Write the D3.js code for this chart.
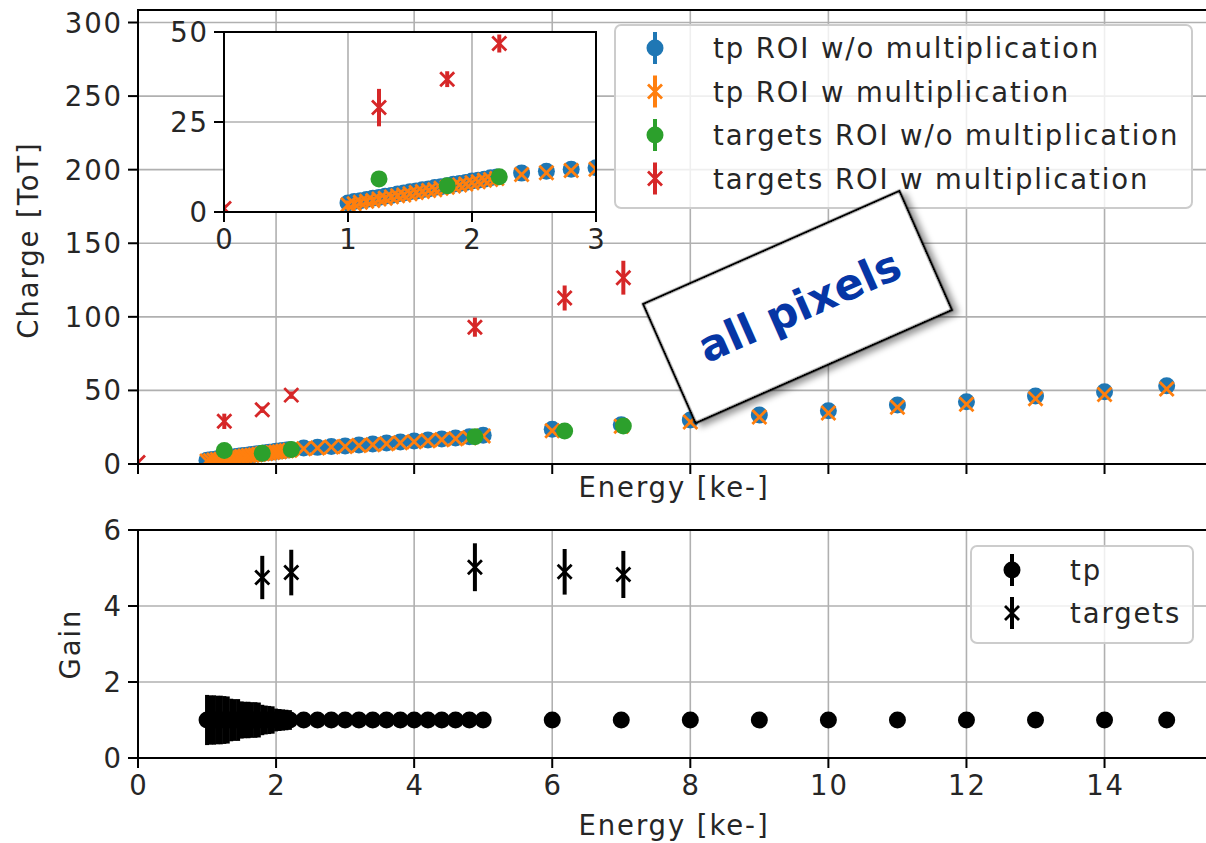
<!DOCTYPE html>
<html>
<head>
<meta charset="utf-8">
<script src="https://cdn.jsdelivr.net/npm/d3@7"></script>
<style>
  body { margin: 0; background: #fff; }
  text { font-family: "DejaVu Sans", sans-serif; fill: #262626; letter-spacing: 1.9px; }
</style>
</head>
<body>
<svg id="chart" width="1206" height="843"></svg>
<script>
// test pulse (tp) energies, ke-
const tpEnergy = [1.00, 1.05, 1.10, 1.15, 1.20, 1.25, 1.30, 1.35, 1.40, 1.45, 1.50, 1.55, 1.60, 1.65, 1.70,
  1.75, 1.80, 1.85, 1.90, 1.95, 2.00, 2.05, 2.10, 2.15, 2.20,
  2.4, 2.6, 2.8, 3.0, 3.2, 3.4, 3.6, 3.8, 4.0, 4.2, 4.4, 4.6, 4.8, 5.0,
  6, 7, 8, 9, 10, 11, 12, 13, 14, 14.9];

// tp charge without multiplication [ToT]
const tpChargeNoMult = [2.5, 2.9, 3.1, 3.5, 3.8, 4.0, 4.4, 4.6, 5.0, 5.3, 5.6, 5.8, 6.2, 6.4, 6.8,
  7.0, 7.3, 7.7, 7.9, 8.2, 8.6, 8.8, 9.1, 9.5, 9.7,
  10.8, 11.3, 11.9, 12.3, 12.9, 13.6, 14.2, 14.9, 15.6, 16.3, 17.0, 17.7, 18.5, 19.6,
  23.6, 26.7, 29.9, 33.3, 36.2, 40.1, 42.3, 46.2, 49.1, 53.2];
const tpChargeNoMultErr = [0.4, 0.4, 0.4, 0.4, 0.4, 0.4, 0.4, 0.4, 0.4, 0.4, 0.4, 0.4, 0.4, 0.4, 0.4,
  0.4, 0.4, 0.4, 0.4, 0.4, 0.4, 0.4, 0.4, 0.4, 0.4,
  0.4, 0.4, 0.4, 0.4, 0.4, 0.4, 0.4, 0.4, 0.4, 0.4, 0.4, 0.4, 0.4, 0.4,
  0.5, 0.5, 0.5, 0.5, 0.5, 0.5, 0.5, 0.5, 0.5, 0.5];

// tp charge with multiplication [ToT]
const tpChargeMult = [2.0, 2.3, 2.7, 3.0, 3.2, 3.6, 3.8, 4.2, 4.5, 4.7, 5.1, 5.4, 5.7, 6.0, 6.2,
  6.6, 6.9, 7.2, 7.5, 7.8, 8.1, 8.4, 8.8, 9.0, 9.3,
  10.4, 10.9, 11.5, 11.9, 12.5, 13.1, 13.8, 14.4, 15.1, 15.8, 16.5, 17.2, 17.9, 19.0,
  22.6, 25.6, 28.6, 31.9, 34.7, 38.5, 40.6, 44.4, 47.2, 51.0];
const tpChargeMultErr = [1.2, 1.2, 1.1, 1.1, 1.0, 1.0, 1.0, 0.9, 0.9, 0.9, 0.8, 0.8, 0.8, 0.7, 0.7,
  0.7, 0.7, 0.6, 0.6, 0.6, 0.6, 0.5, 0.5, 0.5, 0.5,
  0.4, 0.4, 0.4, 0.4, 0.4, 0.4, 0.4, 0.4, 0.4, 0.4, 0.4, 0.4, 0.4, 0.4,
  0.5, 0.5, 0.5, 0.5, 0.5, 0.5, 0.5, 0.5, 0.5, 0.5];

// tp gain (w / w/o multiplication)
const tpGain = [1.0, 1.0, 1.0, 1.0, 1.0, 1.0, 1.0, 1.0, 1.0, 1.0, 1.0, 1.0, 1.0, 1.0, 1.0,
  1.0, 1.0, 1.0, 1.0, 1.0, 1.0, 1.0, 1.0, 1.0, 1.0,
  1.0, 1.0, 1.0, 1.0, 1.0, 1.0, 1.0, 1.0, 1.0, 1.0, 1.0, 1.0, 1.0, 1.0,
  1.0, 1.0, 1.0, 1.0, 1.0, 1.0, 1.0, 1.0, 1.0, 1.0];
const tpGainErr = [0.66, 0.65, 0.65, 0.64, 0.64, 0.63, 0.62, 0.56, 0.55, 0.55, 0.49, 0.48, 0.48, 0.47, 0.47,
  0.46, 0.40, 0.38, 0.37, 0.36, 0.30, 0.29, 0.28, 0.27, 0.26,
  0.18, 0.16, 0.15, 0.14, 0.13, 0.12, 0.11, 0.10, 0.10, 0.09, 0.09, 0.08, 0.08, 0.08,
  0.07, 0.06, 0.06, 0.05, 0.05, 0.05, 0.04, 0.04, 0.04, 0.04];

// targets (sources) energies, ke-
const tgEnergy = [0, 1.25, 1.8, 2.22, 4.88, 6.18, 7.03];
const tgChargeNoMult = [null, 9.2, 7.3, 9.8, 18.5, 22.4, 25.8];
const tgChargeNoMultErr = [null, 0.5, 0.5, 0.5, 0.6, 0.6, 0.7];
const tgChargeMult = [1.0, 29.0, 36.9, 46.8, 93.0, 112.8, 126.6];
const tgChargeMultErr = [1.0, 5.2, 2.2, 2.5, 6.5, 8.5, 11.5];

// targets gain
const tgGainEnergy = [1.8, 2.22, 4.88, 6.18, 7.03];
const tgGain = [4.75, 4.88, 5.02, 4.90, 4.83];
const tgGainErr = [0.57, 0.60, 0.63, 0.60, 0.62];

const legendTop = ["tp ROI w/o multiplication", "tp ROI w multiplication",
  "targets ROI w/o multiplication", "targets ROI w multiplication"];
const legendBottom = ["tp", "targets"];

const blue = "#1f77b4", orange = "#ff7f0e", green = "#2ca02c", red = "#d62728";
const FS = 27.5;

const svg = d3.select("#chart");
const defs = svg.append("defs");

// scales
const x = d3.scaleLinear().domain([0, 15.6]).range([138, 1215]);
const yTop = d3.scaleLinear().domain([0, 308.5]).range([464, 10]);
const yBot = d3.scaleLinear().domain([0, 6]).range([758, 530]);
const xIn = d3.scaleLinear().domain([0, 3]).range([224, 596]);
const yIn = d3.scaleLinear().domain([0, 50]).range([212, 32]);

function clip(id, xs, ys) {
  defs.append("clipPath").attr("id", id).append("rect")
    .attr("x", xs.range()[0]).attr("y", ys.range()[1])
    .attr("width", xs.range()[1] - xs.range()[0])
    .attr("height", ys.range()[0] - ys.range()[1]);
}
clip("cTop", x, yTop);
clip("cBot", x, yBot);
clip("cIn", xIn, yIn);

function grid(g, xs, ys, xt, yt) {
  const [x0, x1] = xs.range(), [y0, y1] = ys.range();
  g.selectAll(null).data(xt).enter().append("line")
    .attr("x1", d => xs(d)).attr("x2", d => xs(d)).attr("y1", y0).attr("y2", y1)
    .attr("stroke", "#b0b0b0").attr("stroke-width", 1.6);
  g.selectAll(null).data(yt).enter().append("line")
    .attr("y1", d => ys(d)).attr("y2", d => ys(d)).attr("x1", x0).attr("x2", x1)
    .attr("stroke", "#b0b0b0").attr("stroke-width", 1.6);
}

function frame(g, xs, ys, xt, yt, xlab) {
  const [x0, x1] = xs.range(), [y0, y1] = ys.range();
  g.append("rect").attr("x", x0).attr("y", y1).attr("width", x1 - x0).attr("height", y0 - y1)
    .attr("fill", "none").attr("stroke", "#000").attr("stroke-width", 2);
  g.selectAll(null).data(xt).enter().append("line")
    .attr("x1", d => xs(d)).attr("x2", d => xs(d)).attr("y1", y0).attr("y2", y0 + 10)
    .attr("stroke", "#000").attr("stroke-width", 2);
  g.selectAll(null).data(yt).enter().append("line")
    .attr("y1", d => ys(d)).attr("y2", d => ys(d)).attr("x1", x0 - 10).attr("x2", x0)
    .attr("stroke", "#000").attr("stroke-width", 2);
  g.selectAll(null).data(yt).enter().append("text")
    .attr("x", x0 - 15).attr("y", d => ys(d) + 10)
    .attr("text-anchor", "end").attr("font-size", FS)
    .text(d => d);
  if (xlab) {
    g.selectAll(null).data(xt).enter().append("text")
      .attr("x", d => xs(d) + 1).attr("y", y0 + 37)
      .attr("text-anchor", "middle").attr("font-size", FS)
      .text(d => d);
  }
}

function series(g, xs, ys, E, V, err, color, marker) {
  const pts = E.map((e, i) => ({ e: e, v: V[i], s: err[i] })).filter(d => d.v != null);
  g.append("g").selectAll("line").data(pts).enter().append("line")
    .attr("x1", d => xs(d.e)).attr("x2", d => xs(d.e))
    .attr("y1", d => ys(d.v - d.s)).attr("y2", d => ys(d.v + d.s))
    .attr("stroke", color).attr("stroke-width", 4);
  const m = g.append("g");
  if (marker === "o") {
    m.selectAll("circle").data(pts).enter().append("circle")
      .attr("cx", d => xs(d.e)).attr("cy", d => ys(d.v)).attr("r", 8.5)
      .attr("fill", color);
  } else {
    m.selectAll("path").data(pts).enter().append("path")
      .attr("d", d => {
        const cx = xs(d.e), cy = ys(d.v), h = 7;
        return `M${cx - h},${cy - h}L${cx + h},${cy + h}M${cx - h},${cy + h}L${cx + h},${cy - h}`;
      })
      .attr("stroke", color).attr("stroke-width", 2.8).attr("fill", "none");
  }
}

function chargeData(g, xs, ys) {
  series(g, xs, ys, tpEnergy, tpChargeNoMult, tpChargeNoMultErr, blue, "o");
  series(g, xs, ys, tpEnergy, tpChargeMult, tpChargeMultErr, orange, "x");
  series(g, xs, ys, tgEnergy, tgChargeNoMult, tgChargeNoMultErr, green, "o");
  series(g, xs, ys, tgEnergy, tgChargeMult, tgChargeMultErr, red, "x");
}

function legendMark(g, cx, cy, color, marker, half) {
  g.append("line").attr("x1", cx).attr("x2", cx).attr("y1", cy - half).attr("y2", cy + half)
    .attr("stroke", color).attr("stroke-width", 4);
  if (marker === "o") {
    g.append("circle").attr("cx", cx).attr("cy", cy).attr("r", 8.5).attr("fill", color);
  } else {
    g.append("path")
      .attr("d", `M${cx - 7},${cy - 7}L${cx + 7},${cy + 7}M${cx - 7},${cy + 7}L${cx + 7},${cy - 7}`)
      .attr("stroke", color).attr("stroke-width", 2.8);
  }
}

const xTicks = d3.range(0, 15, 2);

// ---- top panel: charge ----
const topPanel = svg.append("g");
grid(topPanel, x, yTop, xTicks, d3.range(0, 301, 50));
chargeData(topPanel.append("g").attr("clip-path", "url(#cTop)"), x, yTop);
frame(topPanel, x, yTop, xTicks, d3.range(0, 301, 50), false);
topPanel.append("text").attr("x", 674).attr("y", 497).attr("text-anchor", "middle")
  .attr("font-size", FS).text("Energy [ke-]");
topPanel.append("text").attr("transform", "translate(38,240) rotate(-90)")
  .attr("text-anchor", "middle").attr("font-size", FS).text("Charge [ToT]");

// legend of top panel
const lgTop = svg.append("g");
lgTop.append("rect").attr("x", 615).attr("y", 25).attr("width", 577).attr("height", 183).attr("rx", 6)
  .attr("fill", "#fff").attr("fill-opacity", 0.8).attr("stroke", "#cccccc").attr("stroke-width", 2);
const topStyles = [[blue, "o"], [orange, "x"], [green, "o"], [red, "x"]];
legendTop.forEach((lab, i) => {
  const cy = 48 + i * 43.5;
  legendMark(lgTop, 655, cy, topStyles[i][0], topStyles[i][1], 16);
  lgTop.append("text").attr("x", 713).attr("y", cy + 10).attr("font-size", FS).text(lab);
});

// ---- inset ----
const inset = svg.append("g");
inset.append("rect").attr("x", 224).attr("y", 32).attr("width", 372).attr("height", 180).attr("fill", "#fff");
grid(inset, xIn, yIn, [0, 1, 2, 3], [0, 25, 50]);
chargeData(inset.append("g").attr("clip-path", "url(#cIn)"), xIn, yIn);
frame(inset, xIn, yIn, [0, 1, 2, 3], [0, 25, 50], true);

// ---- bottom panel: gain ----
const botPanel = svg.append("g");
grid(botPanel, x, yBot, xTicks, [0, 2, 4, 6]);
const botData = botPanel.append("g").attr("clip-path", "url(#cBot)");
series(botData, x, yBot, tpEnergy, tpGain, tpGainErr, "#000", "o");
series(botData, x, yBot, tgGainEnergy, tgGain, tgGainErr, "#000", "x");
frame(botPanel, x, yBot, xTicks, [0, 2, 4, 6], true);
botPanel.append("text").attr("x", 674).attr("y", 835).attr("text-anchor", "middle")
  .attr("font-size", FS).text("Energy [ke-]");
botPanel.append("text").attr("transform", "translate(80,644) rotate(-90)")
  .attr("text-anchor", "middle").attr("font-size", FS).text("Gain");

const lgBot = svg.append("g");
lgBot.append("rect").attr("x", 971).attr("y", 546).attr("width", 222).attr("height", 97).attr("rx", 6)
  .attr("fill", "#fff").attr("fill-opacity", 0.8).attr("stroke", "#cccccc").attr("stroke-width", 2);
legendBottom.forEach((lab, i) => {
  const cy = 570 + i * 43;
  legendMark(lgBot, 1012, cy, "#000", i === 0 ? "o" : "x", 16);
  lgBot.append("text").attr("x", 1070).attr("y", cy + 10).attr("font-size", FS).text(lab);
});

// ---- "all pixels" label box ----
const shadow = defs.append("filter").attr("id", "shadow")
  .attr("x", "-20%").attr("y", "-20%").attr("width", "140%").attr("height", "140%");
shadow.append("feDropShadow").attr("dx", 4).attr("dy", 5).attr("stdDeviation", 3)
  .attr("flood-color", "#000").attr("flood-opacity", 0.4);
const box = svg.append("g").attr("transform", "translate(797.5,307) rotate(-23.8)");
box.append("rect").attr("x", -140).attr("y", -65).attr("width", 280).attr("height", 130)
  .attr("fill", "#fff").attr("stroke", "#000").attr("stroke-width", 2.5)
  .attr("filter", "url(#shadow)");
box.append("text").attr("x", 2).attr("y", 15).attr("text-anchor", "middle")
  .attr("font-family", "Liberation Sans, Arial, sans-serif").attr("font-weight", "bold")
  .attr("font-size", 43).style("letter-spacing", "0px").style("fill", "#0636a5").text("all pixels");
</script>
</body>
</html>
